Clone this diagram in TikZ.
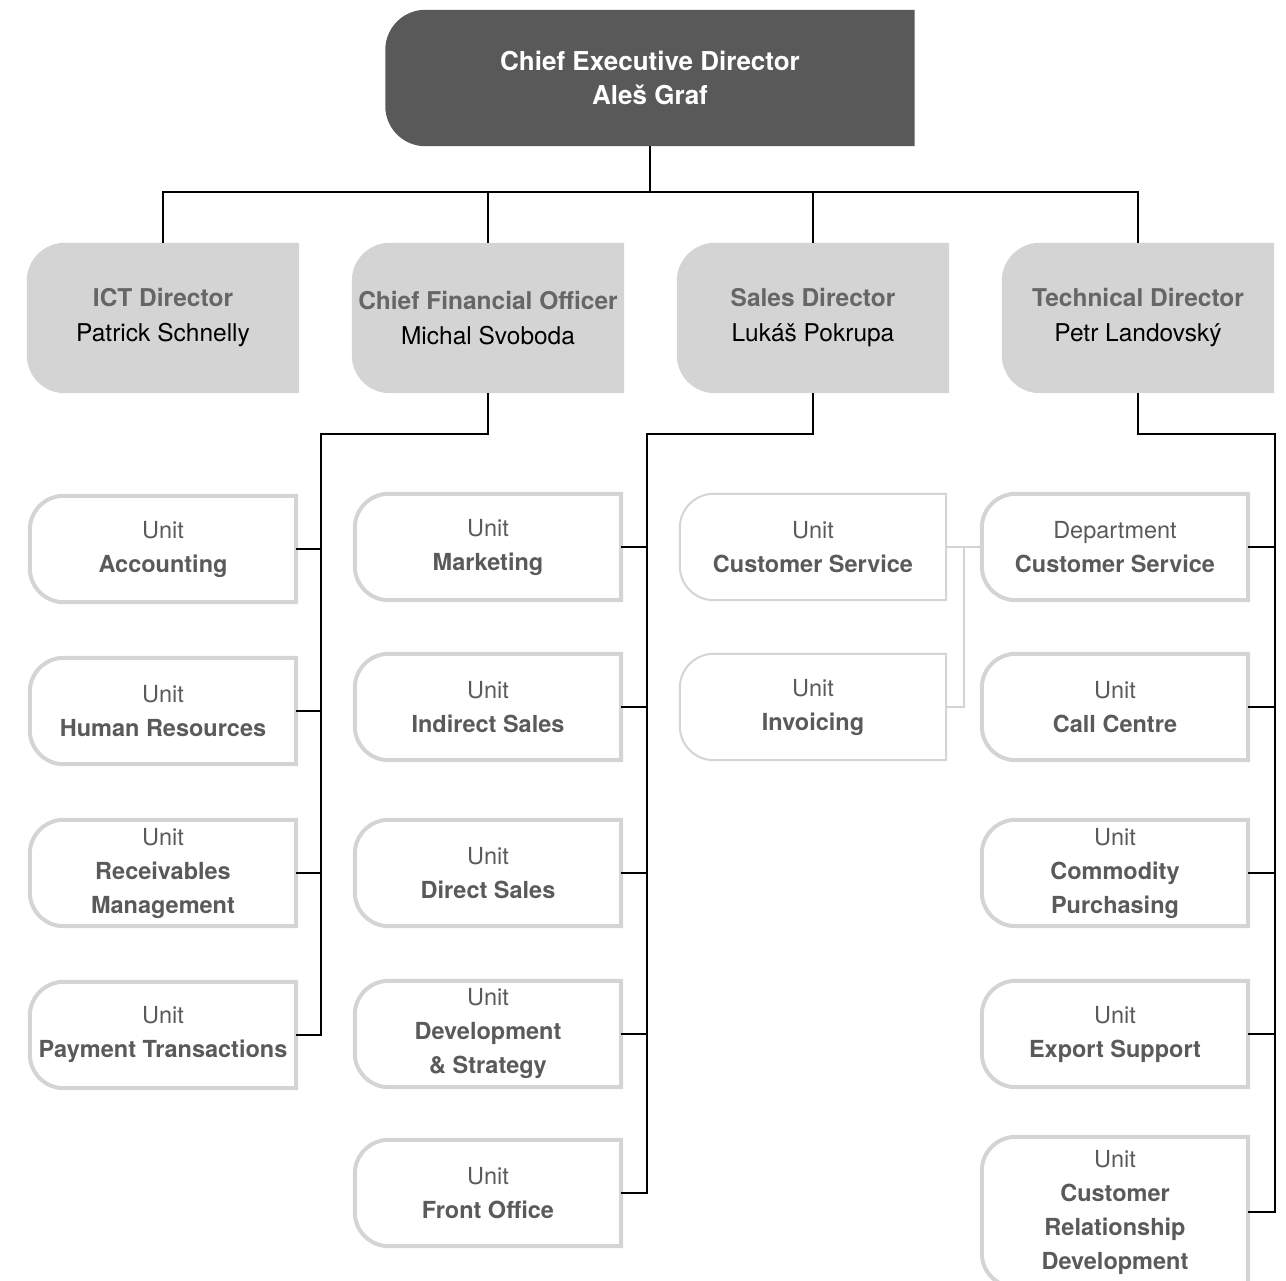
\documentclass[tikz,border=0pt]{standalone}
\usepackage{fontspec}
\setmainfont{TeX Gyre Heros}
\usetikzlibrary{backgrounds}

\definecolor{ceofill}{HTML}{595959}
\definecolor{dirfill}{HTML}{D4D4D4}
\definecolor{dirtitle}{HTML}{666666}
\definecolor{unitline}{HTML}{D4D4D4}
\definecolor{unittext}{HTML}{5A5A5A}

% box with rounded corners on the left side only
\newcommand\halfround[3]{%
  \path[#1] (#2.north east) -- ([xshift=#3]#2.north west)
    arc[start angle=90, end angle=180, radius=#3]
    -- ([yshift=#3]#2.south west)
    arc[start angle=180, end angle=270, radius=#3]
    -- (#2.south east) -- cycle;}

\tikzset{
  ceo/.style={minimum width=529pt, minimum height=136pt, inner sep=0pt,
    align=center, text=white, font=\fontsize{26}{34}\selectfont\bfseries},
  director/.style={minimum width=272pt, minimum height=150pt, inner sep=0pt,
    align=center, font=\fontsize{24.5}{35}\selectfont},
  unit/.style={minimum width=266pt, minimum height=106pt, inner sep=0pt,
    align=center, text=unittext, font=\fontsize{23.5}{34}\selectfont},
  link/.style={line width=2.5pt, black},
  thinlink/.style={line width=2pt, unitline},
}

\begin{document}
\begin{tikzpicture}[x=1pt, y=-1pt]
    \useasboundingbox (0,0) rectangle (1286,1281);

    % 1. Vedení
    \node[ceo] (ceo) at (650,78) {Chief Executive Director\\Aleš Graf};

    \coordinate (dtop) at (0,241);
    \node[director] (ict) at (163,318) {\textcolor{dirtitle}{\bfseries ICT Director}\\Patrick Schnelly};
    \node[director] (cfo) at (488,318) {\textcolor{dirtitle}{\bfseries Chief Financial Officer}\\Michal Svoboda};
    \node[director] (sal) at (813,318) {\textcolor{dirtitle}{\bfseries Sales Director}\\Lukáš Pokrupa};
    \node[director] (tec) at (1138,318) {\textcolor{dirtitle}{\bfseries Technical Director}\\Petr Landovský};

    % 2. Útvary
    \node[unit] (acc) at (163,549) {Unit\\\textbf{Accounting}};
    \node[unit] (hr)  at (163,711) {Unit\\\textbf{Human Resources}};
    \node[unit] (rec) at (163,873) {Unit\\\textbf{Receivables}\\\textbf{Management}};
    \node[unit] (pay) at (163,1035) {Unit\\\textbf{Payment Transactions}};

    \node[unit] (mkt) at (488,547) {Unit\\\textbf{Marketing}};
    \node[unit] (ind) at (488,707) {Unit\\\textbf{Indirect Sales}};
    \node[unit] (dir) at (488,873) {Unit\\\textbf{Direct Sales}};
    \node[unit] (dev) at (488,1034) {Unit\\\textbf{Development}\\\textbf{\& Strategy}};
    \node[unit] (fro) at (488,1193) {Unit\\\textbf{Front Office}};

    \node[unit] (cus) at (813,547) {Unit\\\textbf{Customer Service}};
    \node[unit] (inv) at (813,707) {Unit\\\textbf{Invoicing}};

    \node[unit] (dep) at (1115,547) {Department\\\textbf{Customer Service}};
    \node[unit] (cal) at (1115,707) {Unit\\\textbf{Call Centre}};
    \node[unit] (com) at (1115,873) {Unit\\\textbf{Commodity}\\\textbf{Purchasing}};
    \node[unit] (exp) at (1115,1034) {Unit\\\textbf{Export Support}};
    \node[unit, minimum height=150pt] (crd) at (1115,1212) {Unit\\\textbf{Customer}\\\textbf{Relationship}\\\textbf{Development}};

    \coordinate (bus) at (650,192);
    \coordinate (t1) at (321,434);
    \coordinate (t2) at (647,434);
    \coordinate (t3) at (1275,434);
    \coordinate (jn) at (964,547);

    \begin{pgfonlayer}{background}
    % 3. Rámečky
    \halfround{fill=ceofill}{ceo}{40pt}
    \foreach \d in {ict, cfo, sal, tec} {
        \halfround{fill=dirfill}{\d}{38pt}
    }
    \foreach \u in {acc, hr, rec, pay, mkt, ind, dir, dev, fro, dep, cal, com, exp, crd} {
        \halfround{draw=unitline, line width=4pt}{\u}{34pt}
    }
    \foreach \u in {cus, inv} {
        \halfround{draw=unitline, line width=2pt}{\u}{34pt}
    }

    % 4. Spojnice
    \draw[link] (ceo.south) -- (bus);
    \draw[link] (ict.north) |- (bus) -| (tec.north);
    \foreach \d in {cfo, sal} {
        \draw[link] (\d.north) -- (\d.north |- bus);
    }

    \draw[link] (cfo.south) |- (t1) |- (pay.east);
    \foreach \u in {acc, hr, rec} {
        \draw[link] (\u.east) -- (\u.east -| t1);
    }
    \draw[link] (sal.south) |- (t2) |- (fro.east);
    \foreach \u in {mkt, ind, dir, dev} {
        \draw[link] (\u.east) -- (\u.east -| t2);
    }
    \draw[link] (tec.south) |- (t3) |- (crd.east);
    \foreach \u in {dep, cal, com, exp} {
        \draw[link] (\u.east) -- (\u.east -| t3);
    }

    \draw[thinlink] (cus.east) -- (dep.west);
    \draw[thinlink] (inv.east) -| (jn);
    \end{pgfonlayer}
\end{tikzpicture}
\end{document}
